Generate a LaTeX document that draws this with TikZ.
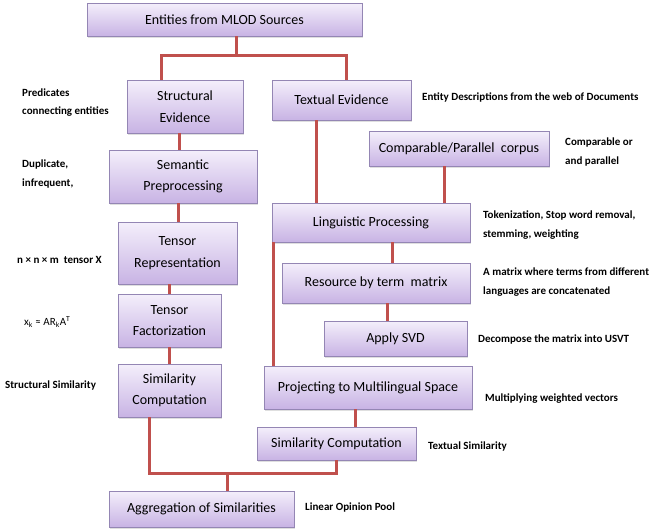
\documentclass[tikz,border=0pt]{standalone}
\usepackage{fontspec}
\setmainfont{Carlito}
\usetikzlibrary{shadows}

\definecolor{linkred}{HTML}{C0504D}
\definecolor{boxtop}{HTML}{F4EFFB}
\definecolor{boxbot}{HTML}{C8B3E4}
\definecolor{boxline}{HTML}{9486B4}

\tikzset{
  stepbox/.style={draw=boxline, line width=0.8pt, top color=boxtop, bottom color=boxbot,
    align=center, inner sep=2pt, font=\fontsize{14}{21.5}\selectfont,
    drop shadow={shadow xshift=1.2pt, shadow yshift=-1.5pt, opacity=0.25}},
  note/.style={anchor=west, align=left, inner sep=0pt, font=\bfseries\fontsize{11}{18.5}\selectfont},
  link/.style={linkred, line width=3pt}
}

\begin{document}
\begin{tikzpicture}[x=1pt, y=-1pt]
\useasboundingbox (0,0) rectangle (651,530);

% boxes
\node[stepbox, minimum width=275, minimum height=33] (ent) at (224.5,19.5) {Entities from MLOD Sources};
\node[stepbox, minimum width=116, minimum height=53] (str) at (185,106.5) {Structural\\Evidence};
\node[stepbox, minimum width=139, minimum height=40] (txt) at (341.5,100) {Textual Evidence};
\node[stepbox, minimum width=180, minimum height=35] (cmp) at (459,148.5) {Comparable/Parallel\ \ corpus};
\node[stepbox, minimum width=148, minimum height=53] (sem) at (183,176.5) {Semantic\\Preprocessing};
\node[stepbox, minimum width=119, minimum height=62] (trep) at (177.5,253) {Tensor\\Representation};
\node[stepbox, minimum width=103, minimum height=53] (tfac) at (169.5,320.5) {Tensor\\Factorization};
\node[stepbox, minimum width=103, minimum height=53] (ssim) at (169.5,390.5) {Similarity\\Computation};
\node[stepbox, minimum width=198, minimum height=39] (ling) at (371,222.5) {Linguistic Processing};
\node[stepbox, minimum width=188, minimum height=40] (res) at (376,283) {Resource by term\ \ matrix};
\node[stepbox, minimum width=143, minimum height=35] (svd) at (395.5,338.5) {Apply SVD};
\node[stepbox, minimum width=208, minimum height=43] (proj) at (368,387.5) {Projecting to Multilingual Space};
\node[stepbox, minimum width=159, minimum height=33] (tsim) at (336.5,443.5) {Similarity Computation};
\node[stepbox, minimum width=185, minimum height=36] (agg) at (201.5,509) {Aggregation of Similarities};

% connectors
\draw[link] (236,0 |- ent.south) -- (236,55);
\draw[link] (str.north -| 161,0) -- (161,55) -- (346,55) -- (txt.north -| 346,0);
\draw[link] (str.south -| 179,0) -- (sem.north -| 179,0);
\draw[link] (sem.south -| 178,0) -- (trep.north -| 178,0);
\draw[link] (trep.south -| 169,0) -- (tfac.north -| 169,0);
\draw[link] (tfac.south -| 169,0) -- (ssim.north -| 169,0);
\draw[link] (txt.south -| 316,0) -- (ling.north -| 316,0);
\draw[link] (cmp.south -| 444,0) -- (ling.north -| 444,0);
\draw[link] (ling.south -| 392,0) -- (res.north -| 392,0);
\draw[link] (res.south -| 387,0) -- (svd.north -| 387,0);
\draw[link] (ling.south -| 273,0) -- (proj.north -| 273,0);
\draw[link] (proj.south -| 355,0) -- (tsim.north -| 355,0);
\draw[link] (ssim.south -| 149,0) -- (149,473) -- (336,473) -- (tsim.south -| 336,0);
\draw[link] (227,473) -- (agg.north -| 227,0);

% side notes
\node[note] (npred) at (22,102.5) {Predicates\\connecting entities};
\node[note] (ndup) at (22,174) {Duplicate,\\infrequent,};
\node[note] (ntens) at (17,260) {n × n × m\ \ tensor X};
\node[note, font=\fontsize{11}{12}\selectfont] (nfac) at (24,322) {x\textsubscript{k} ≈ AR\textsubscript{k}A\textsuperscript{T}};
\node[note] (nssim) at (5,386) {Structural Similarity};
\node[note] (ntxt) at (422,97) {Entity Descriptions from the web\ of Documents};
\node[note] (ncmp) at (565,152) {Comparable or\\and parallel};
\node[note] (nling) at (483,225) {Tokenization, Stop\ word removal,\\stemming, weighting};
\node[note] (nres) at (483,282) {A matrix where terms from different\\languages are concatenated};
\node[note] (nsvd) at (478,340) {Decompose the matrix into USVT};
\node[note] (nproj) at (485,399) {Multiplying weighted vectors};
\node[note] (ntsim) at (428,447) {Textual Similarity};
\node[note] (nagg) at (305,508) {Linear Opinion Pool};

\end{tikzpicture}
\end{document}
